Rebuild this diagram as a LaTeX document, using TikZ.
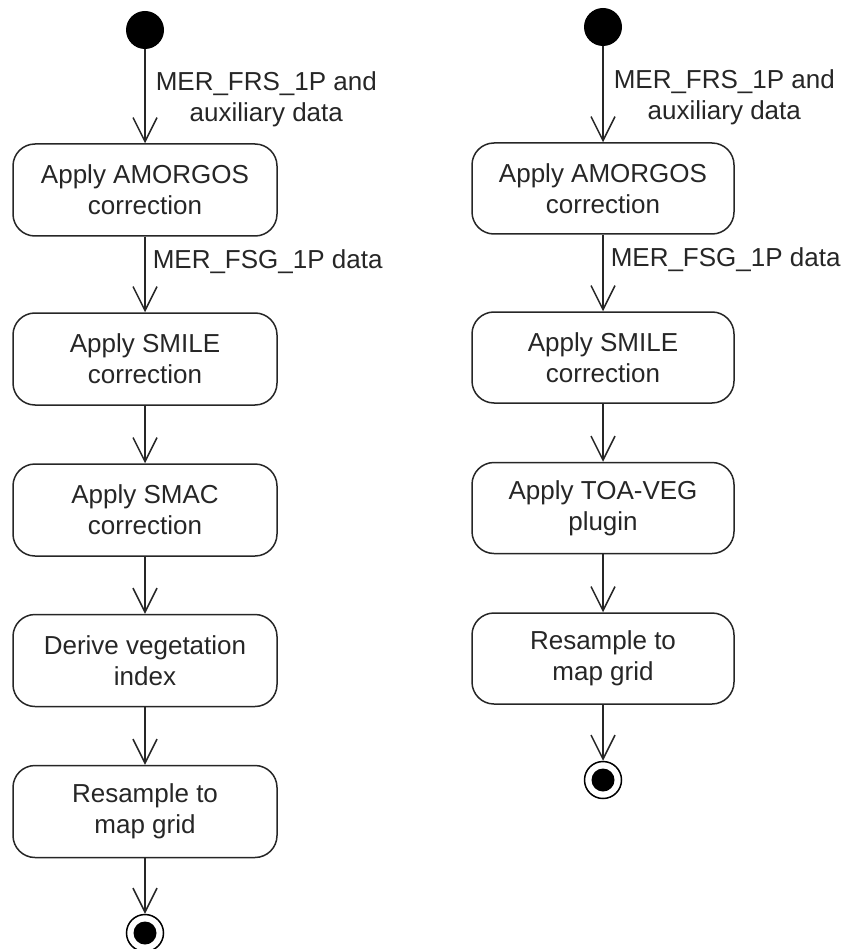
\documentclass[tikz,border=0pt]{standalone}
\usepackage{fontspec}
\setmainfont{Liberation Sans}
\usetikzlibrary{arrows.meta}
\begin{document}
\begin{tikzpicture}[x=1pt,y=-1pt,
  every node/.style={font=\fontsize{26}{31}\selectfont, text=black!85},
  act/.style={draw=black!85, line width=1.5pt, rounded corners=22pt, minimum width=264pt, minimum height=92pt, align=center, inner sep=0pt},
  startnode/.style={circle, fill=black, minimum size=38pt, inner sep=0pt},
  endnode/.style={circle, draw=black, line width=1.5pt, minimum size=37pt, inner sep=0pt,
     path picture={\fill[black] (path picture bounding box.center) circle (11.5pt);}},
  flow/.style={draw=black!85, line width=1.5pt, -{Straight Barb[length=24pt, width=24pt, line width=1.5pt]}},
  lbl/.style={align=center, inner sep=0pt, anchor=west}
]
\useasboundingbox (0,0) rectangle (844,949);
% left column
\node[startnode] (ls) at (145,30) {};
\node[act] (l1) at (145,190) {Apply AMORGOS\\correction};
\node[act] (l2) at (145,359) {Apply SMILE\\correction};
\node[act] (l3) at (145,510) {Apply SMAC\\correction};
\node[act] (l4) at (145,660.5) {Derive vegetation\\index};
\node[act] (l5) at (145,811.5) {Resample to\\map grid};
\node[endnode] (le) at (145,933) {};
\draw[flow] (ls) -- node[lbl, pos=0.53, xshift=10pt] {MER\_FRS\_1P and\\auxiliary data} (l1);
\draw[flow] (l1) -- node[lbl, pos=0.33, xshift=7pt] {MER\_FSG\_1P data} (l2);
\draw[flow] (l2) -- (l3);
\draw[flow] (l3) -- (l4);
\draw[flow] (l4) -- (l5);
\draw[flow] (l5) -- (le);
% right column
\node[startnode] (rs) at (603,27) {};
\node[act, minimum width=262pt, minimum height=91pt] (r1) at (603,188.5) {Apply AMORGOS\\correction};
\node[act, minimum width=262pt, minimum height=91pt] (r2) at (603,357.5) {Apply SMILE\\correction};
\node[act, minimum width=262pt, minimum height=91pt] (r3) at (603,508) {Apply TOA-VEG\\plugin};
\node[act, minimum width=262pt, minimum height=91pt] (r4) at (603,658.5) {Resample to\\map grid};
\node[endnode] (re) at (603,780) {};
\draw[flow] (rs) -- node[lbl, pos=0.53, xshift=10pt] {MER\_FRS\_1P and\\auxiliary data} (r1);
\draw[flow] (r1) -- node[lbl, pos=0.33, xshift=7pt] {MER\_FSG\_1P data} (r2);
\draw[flow] (r2) -- (r3);
\draw[flow] (r3) -- (r4);
\draw[flow] (r4) -- (re);
\end{tikzpicture}
\end{document}
